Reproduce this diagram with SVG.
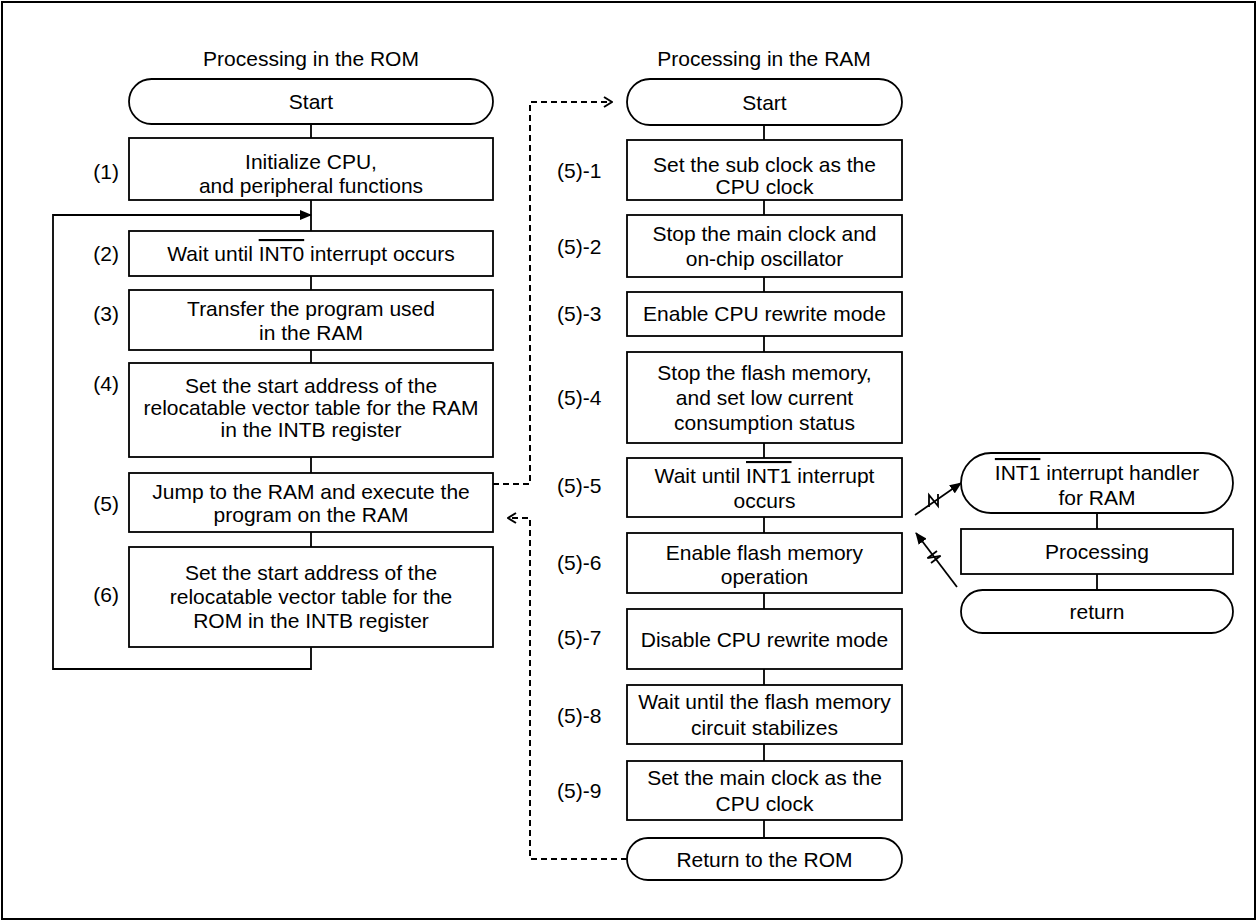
<svg xmlns="http://www.w3.org/2000/svg" width="1258" height="922" viewBox="0 0 1258 922">
<style>
text{font-family:"Liberation Sans",Arial,sans-serif;font-size:21px;fill:#000;text-anchor:middle;dominant-baseline:central}
.lbl{text-anchor:end}
.lbl2{text-anchor:start}
.b{fill:#fff;stroke:#000;stroke-width:1.8}
.ln{fill:none;stroke:#000;stroke-width:1.8}
.ds{fill:none;stroke:#000;stroke-width:2;stroke-dasharray:6 4}
.ov{text-decoration:overline}
</style>
<defs>
<marker id="ah" markerWidth="12" markerHeight="10" refX="11" refY="5" orient="auto" markerUnits="userSpaceOnUse"><path d="M0,0 L12,5 L0,10 Z" fill="#000"/></marker>
<marker id="oh" markerWidth="10" markerHeight="12" refX="9" refY="6" orient="auto" markerUnits="userSpaceOnUse"><path d="M1,1 L9,6 L1,11" fill="none" stroke="#000" stroke-width="2"/></marker>
</defs>
<rect x="2" y="2" width="1253" height="917" fill="#fff" stroke="#000" stroke-width="2"/>
<text x="311" y="58">Processing in the ROM</text>
<text x="764" y="58">Processing in the RAM</text>
<g id="connectors">
<path class="ln" d="M311,124 V138 M311,200 V231 M311,276 V290 M311,350 V363 M311,457 V473 M311,532 V547"/>
<path class="ln" d="M311,647 V669 H53 V215 H311" marker-end="url(#ah)"/>
<path class="ln" d="M764,125 V140 M764,200 V215 M764,277 V292 M764,336 V352 M764,443 V458 M764,517 V533 M764,593 V609 M764,669 V685 M764,744 V761 M764,820 V838"/>
<path class="ln" d="M1097,513 V529 M1097,574 V590"/>
<path class="ds" d="M493,484 H530 V102 H612" marker-end="url(#oh)"/>
<path class="ds" d="M627,859 H530 V518 H508" marker-end="url(#oh)"/>
<path class="ln" d="M915,515 L961,483" marker-end="url(#ah)"/>
<path class="ln" d="M929,507 L929,495 L938,506 L938,494"/>
<path class="ln" d="M957,587 L916,533" marker-end="url(#ah)"/>
<path class="ln" d="M931,563 L940.6,555.8 L927.4,558.2 L937,551"/>
</g>
<g id="rom-start"><rect class="b" x="129" y="79" width="364" height="45" rx="22.5"/><text x="311" y="101.5">Start</text></g>
<g id="rom-1"><text class="lbl" x="119" y="171">(1)</text><rect class="b" x="129" y="138" width="364" height="62"/><text x="311" y="161">Initialize CPU,</text><text x="311" y="185">and peripheral functions</text></g>
<g id="rom-2"><text class="lbl" x="119" y="253">(2)</text><rect class="b" x="129" y="231" width="364" height="45"/><text x="311" y="253">Wait until <tspan class="ov">INT0</tspan> interrupt occurs</text></g>
<g id="rom-3"><text class="lbl" x="119" y="313">(3)</text><rect class="b" x="129" y="290" width="364" height="60"/><text x="311" y="308">Transfer the program used</text><text x="311" y="332">in the RAM</text></g>
<g id="rom-4"><text class="lbl" x="119" y="383">(4)</text><rect class="b" x="129" y="363" width="364" height="94"/><text x="311" y="385">Set the start address of the</text><text x="311" y="407">relocatable vector table for the RAM</text><text x="311" y="429">in the INTB register</text></g>
<g id="rom-5"><text class="lbl" x="119" y="503">(5)</text><rect class="b" x="129" y="473" width="364" height="59"/><text x="311" y="491">Jump to the RAM and execute the</text><text x="311" y="514">program on the RAM</text></g>
<g id="rom-6"><text class="lbl" x="119" y="594">(6)</text><rect class="b" x="129" y="547" width="364" height="100"/><text x="311" y="572">Set the start address of the</text><text x="311" y="596">relocatable vector table for the</text><text x="311" y="620">ROM in the INTB register</text></g>
<g id="ram-start"><rect class="b" x="627" y="79" width="275" height="46" rx="23"/><text x="764.5" y="102">Start</text></g>
<g id="ram-5-1"><text class="lbl2" x="557" y="170">(5)-1</text><rect class="b" x="627" y="140" width="275" height="60"/><text x="764.5" y="164">Set the sub clock as the</text><text x="764.5" y="186">CPU clock</text></g>
<g id="ram-5-2"><text class="lbl2" x="557" y="246">(5)-2</text><rect class="b" x="627" y="215" width="275" height="62"/><text x="764.5" y="233">Stop the main clock and</text><text x="764.5" y="258">on-chip oscillator</text></g>
<g id="ram-5-3"><text class="lbl2" x="557" y="313">(5)-3</text><rect class="b" x="627" y="292" width="275" height="44"/><text x="764.5" y="313">Enable CPU rewrite mode</text></g>
<g id="ram-5-4"><text class="lbl2" x="557" y="397">(5)-4</text><rect class="b" x="627" y="352" width="275" height="91"/><text x="764.5" y="372">Stop the flash memory,</text><text x="764.5" y="397">and set low current</text><text x="764.5" y="422">consumption status</text></g>
<g id="ram-5-5"><text class="lbl2" x="557" y="485">(5)-5</text><rect class="b" x="627" y="458" width="275" height="59"/><text x="764.5" y="475">Wait until <tspan class="ov">INT1</tspan> interrupt</text><text x="764.5" y="500">occurs</text></g>
<g id="ram-5-6"><text class="lbl2" x="557" y="562">(5)-6</text><rect class="b" x="627" y="533" width="275" height="60"/><text x="764.5" y="552">Enable flash memory</text><text x="764.5" y="576">operation</text></g>
<g id="ram-5-7"><text class="lbl2" x="557" y="637">(5)-7</text><rect class="b" x="627" y="609" width="275" height="60"/><text x="764.5" y="639">Disable CPU rewrite mode</text></g>
<g id="ram-5-8"><text class="lbl2" x="557" y="715">(5)-8</text><rect class="b" x="627" y="685" width="275" height="59"/><text x="764.5" y="701">Wait until the flash memory</text><text x="764.5" y="727">circuit stabilizes</text></g>
<g id="ram-5-9"><text class="lbl2" x="557" y="790">(5)-9</text><rect class="b" x="627" y="761" width="275" height="59"/><text x="764.5" y="777">Set the main clock as the</text><text x="764.5" y="803">CPU clock</text></g>
<g id="ram-return"><rect class="b" x="627" y="838" width="275" height="42" rx="21"/><text x="764.5" y="859">Return to the ROM</text></g>
<g id="int1-handler"><rect class="b" x="961" y="453" width="272" height="60" rx="30"/><text x="1097" y="472"><tspan class="ov">INT1</tspan> interrupt handler</text><text x="1097" y="497">for RAM</text></g>
<g id="int1-processing"><rect class="b" x="961" y="529" width="272" height="45"/><text x="1097" y="551">Processing</text></g>
<g id="int1-return"><rect class="b" x="961" y="590" width="272" height="43" rx="21.5"/><text x="1097" y="611.5">return</text></g>
</svg>
